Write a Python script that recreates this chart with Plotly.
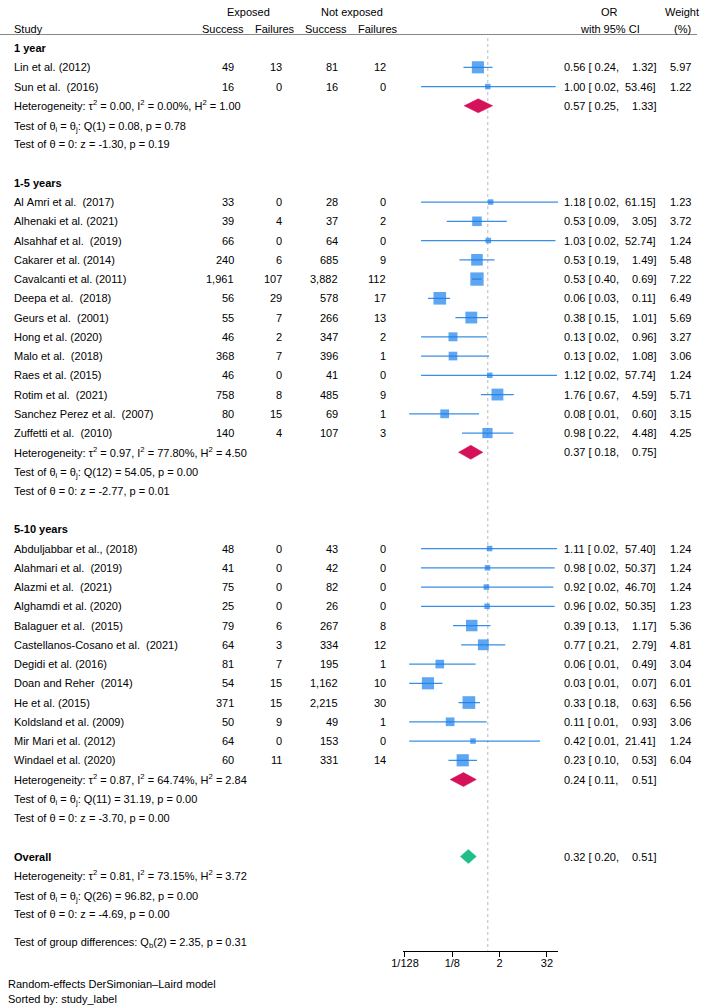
import math
import plotly.graph_objects as go

# ---------------- data ----------------
group_names = ["1 year", "1-5 years", "5-10 years"]

study_group = [0, 0] + [1] * 13 + [2] * 12
study_label = [
    "Lin et al. (2012)", "Sun et al.  (2016)",
    "Al Amri et al.  (2017)", "Alhenaki et al. (2021)", "Alsahhaf et al.  (2019)",
    "Cakarer et al. (2014)", "Cavalcanti et al. (2011)", "Deepa et al.  (2018)",
    "Geurs et al.  (2001)", "Hong et al. (2020)", "Malo et al.  (2018)",
    "Raes et al. (2015)", "Rotim et al.  (2021)", "Sanchez Perez et al.  (2007)",
    "Zuffetti et al.  (2010)",
    "Abduljabbar et al., (2018)", "Alahmari et al.  (2019)", "Alazmi et al.  (2021)",
    "Alghamdi et al. (2020)", "Balaguer et al.  (2015)",
    "Castellanos-Cosano et al.  (2021)", "Degidi et al. (2016)",
    "Doan and Reher  (2014)", "He et al. (2015)", "Koldsland et al. (2009)",
    "Mir Mari et al. (2012)", "Windael et al. (2020)",
]
exp_success = [49, 16, 33, 39, 66, 240, 1961, 56, 55, 46, 368, 46, 758, 80, 140,
               48, 41, 75, 25, 79, 64, 81, 54, 371, 50, 64, 60]
exp_failure = [13, 0, 0, 4, 0, 6, 107, 29, 7, 2, 7, 0, 8, 15, 4,
               0, 0, 0, 0, 6, 3, 7, 15, 15, 9, 0, 11]
nexp_success = [81, 16, 28, 37, 64, 685, 3882, 578, 266, 347, 396, 41, 485, 69, 107,
                43, 42, 82, 26, 267, 334, 195, 1162, 2215, 49, 153, 331]
nexp_failure = [12, 0, 0, 2, 0, 9, 112, 17, 13, 2, 1, 0, 9, 1, 3,
                0, 0, 0, 0, 8, 12, 1, 10, 30, 1, 0, 14]
odds_ratio = [0.56, 1.00, 1.18, 0.53, 1.03, 0.53, 0.53, 0.06, 0.38, 0.13, 0.13, 1.12, 1.76,
              0.08, 0.98, 1.11, 0.98, 0.92, 0.96, 0.39, 0.77, 0.06, 0.03, 0.33, 0.11, 0.42, 0.23]
ci_low = [0.24, 0.02, 0.02, 0.09, 0.02, 0.19, 0.40, 0.03, 0.15, 0.02, 0.02, 0.02, 0.67,
          0.01, 0.22, 0.02, 0.02, 0.02, 0.02, 0.13, 0.21, 0.01, 0.01, 0.18, 0.01, 0.01, 0.10]
ci_high = [1.32, 53.46, 61.15, 3.05, 52.74, 1.49, 0.69, 0.11, 1.01, 0.96, 1.08, 57.74, 4.59,
           0.60, 4.48, 57.40, 50.37, 46.70, 50.35, 1.17, 2.79, 0.49, 0.07, 0.63, 0.93, 21.41, 0.53]
weight = [5.97, 1.22, 1.23, 3.72, 1.24, 5.48, 7.22, 6.49, 5.69, 3.27, 3.06, 1.24, 5.71,
          3.15, 4.25, 1.24, 1.24, 1.24, 1.23, 5.36, 4.81, 3.04, 6.01, 6.56, 3.06, 1.24, 6.04]

sub_or = [0.57, 0.37, 0.24]
sub_low = [0.25, 0.18, 0.11]
sub_high = [1.33, 0.75, 0.51]
sub_tau2 = ["0.00", "0.97", "0.87"]
sub_i2 = ["0.00", "77.80", "64.74"]
sub_h2 = ["1.00", "4.50", "2.84"]
sub_q_df = [1, 12, 11]
sub_q = ["0.08", "54.05", "31.19"]
sub_q_p = ["0.78", "0.00", "0.00"]
sub_z = ["-1.30", "-2.77", "-3.70"]
sub_z_p = ["0.19", "0.01", "0.00"]

overall_or, overall_low, overall_high = 0.32, 0.20, 0.51
overall_tau2, overall_i2, overall_h2 = "0.81", "73.15", "3.72"
overall_q_df, overall_q, overall_q_p = 26, "96.82", "0.00"
overall_z, overall_z_p = "-4.69", "0.00"
groupdiff_df, groupdiff_q, groupdiff_p = 2, "2.35", "0.31"

tick_values = [1 / 128, 1 / 8, 2, 32]
tick_labels = ["1/128", "1/8", "2", "32"]

# ---------------- layout helpers ----------------
W, H = 709, 1008
ROW0, ROWH = 48.05, 19.25          # pixel y of row 0 and row height
FONT = "Liberation Sans, Arial, Helvetica, sans-serif"
FS = 11
BLUE = "#1a7fec"
CI_BLUE = "#3a8ee6"
CRIMSON = "#d41159"
GREEN = "#1fbf87"
NBSP = "\u00a0"
SUB_SHIFT = 1.5    # compensate the taller box of lines with subscripts
SUP_SHIFT = -0.5


def row_px(r):
    return ROW0 + ROWH * r


def row_of(ypx):
    return (ypx - ROW0) / ROWH


def nb(s):
    return s.replace(" ", NBSP)


# row assignment
rows_study = []
rows_group = []
rows_sum = []
r = 0
for g in range(3):
    rows_group.append(r)
    r += 1
    for i, sg in enumerate(study_group):
        if sg == g:
            rows_study.append(r)
            r += 1
    rows_sum.append(r)
    r += 4
row_overall = r

annotations = []


def txt(x, ypx, s, anchor="left", bold=False, size=FS):
    if bold:
        s = "<b>" + s + "</b>"
    annotations.append(dict(
        x=x / W, y=1 - ypx / H, xref="paper", yref="paper", text=s, showarrow=False,
        xanchor=anchor, yanchor="middle", borderpad=0,
        font=dict(family=FONT, size=size, color="black"),
    ))


# header
h1, h2 = 12.5, 28.5
txt(248, h1, "Exposed", "center")
txt(352, h1, nb("Not exposed"), "center")
txt(609, h1, "OR", "center")
txt(682, h1, "Weight", "center")
txt(13, h2, "Study")
txt(223, h2, "Success", "center")
txt(274.5, h2, "Failures", "center")
txt(326, h2, "Success", "center")
txt(378, h2, "Failures", "center")
txt(609.5, h2, nb("with 95% CI"), "center")
txt(682, h2, "(%)", "center")


def fmt_ci(ypx, es, lo, hi):
    txt(562.5, ypx, nb(f"{es:.2f} [ {lo:.2f},"), "left")
    txt(656.5, ypx, f"{hi:.2f}]", "right")


def het_lines(ypx, tau2, i2, h2v, qdf, q, qp, z, zp):
    txt(13, ypx + SUP_SHIFT, nb(f"Heterogeneity: τ<sup>2</sup> = {tau2}, I<sup>2</sup> = {i2}%, H<sup>2</sup> = {h2v}"))
    txt(13, ypx + ROWH + SUB_SHIFT, nb(f"Test of θ<sub>i</sub> = θ<sub>j</sub>: Q({qdf}) = {q}, p = {qp}"))
    txt(13, ypx + 2 * ROWH, nb(f"Test of θ = 0: z = {z}, p = {zp}"))


for g in range(3):
    txt(13, row_px(rows_group[g]), nb(group_names[g]), bold=True)
    ys = row_px(rows_sum[g])
    het_lines(ys, sub_tau2[g], sub_i2[g], sub_h2[g], sub_q_df[g], sub_q[g], sub_q_p[g],
              sub_z[g], sub_z_p[g])
    fmt_ci(ys, sub_or[g], sub_low[g], sub_high[g])

for i, rr in enumerate(rows_study):
    y = row_px(rr)
    txt(13, y, nb(study_label[i]))
    txt(235, y, f"{exp_success[i]:,}", "right")
    txt(283, y, f"{exp_failure[i]:,}", "right")
    txt(339, y, f"{nexp_success[i]:,}", "right")
    txt(387, y, f"{nexp_failure[i]:,}", "right")
    fmt_ci(y, odds_ratio[i], ci_low[i], ci_high[i])
    txt(692, y, f"{weight[i]:.2f}", "right")

yo = row_px(row_overall)
txt(13, yo, "Overall", bold=True)
het_lines(yo + ROWH, overall_tau2, overall_i2, overall_h2, overall_q_df, overall_q,
          overall_q_p, overall_z, overall_z_p)
fmt_ci(yo, overall_or, overall_low, overall_high)
txt(13, 941 + SUB_SHIFT, nb(f"Test of group differences: Q<sub>b</sub>({groupdiff_df}) = {groupdiff_q}, p = {groupdiff_p}"))

txt(7, 984, nb("Random-effects DerSimonian–Laird model"))
txt(7, 999, nb("Sorted by: study_label"))

# ---------------- traces ----------------
fig = go.Figure()

AX_Y_TOP, AX_Y_BOT = 36, 951
y_top_r, y_bot_r = row_of(AX_Y_TOP), row_of(AX_Y_BOT)

# no-effect dotted line
fig.add_trace(go.Scatter(
    x=[1, 1], y=[row_of(38), y_bot_r], mode="lines",
    line=dict(color="#b8b8b8", width=1, dash="dot"), hoverinfo="skip", showlegend=False,
))

# CI lines
cx, cy = [], []
for i, rr in enumerate(rows_study):
    cx += [ci_low[i], ci_high[i], None]
    cy += [rr, rr, None]
fig.add_trace(go.Scatter(
    x=cx, y=cy, mode="lines", line=dict(color=CI_BLUE, width=1.2),
    hoverinfo="skip", showlegend=False, cliponaxis=False,
))

# squares
fig.add_trace(go.Scatter(
    x=odds_ratio, y=rows_study, mode="markers",
    marker=dict(symbol="square", color=BLUE, size=[4.95 * math.sqrt(w) for w in weight],
                line=dict(width=0)),
    hoverinfo="skip", showlegend=False, cliponaxis=False,
))

DH = 7 / ROWH


def diamond(es, lo, hi, rr, color):
    fig.add_trace(go.Scatter(
        x=[lo, es, hi, es, lo], y=[rr, rr - DH, rr, rr + DH, rr],
        mode="lines", fill="toself", fillcolor=color, line=dict(color=color, width=0.5),
        hoverinfo="skip", showlegend=False, cliponaxis=False,
    ))


for g in range(3):
    diamond(sub_or[g], sub_low[g], sub_high[g], rows_sum[g], CRIMSON)
diamond(overall_or, overall_low, overall_high, row_overall, GREEN)

# ---------------- axes ----------------
X_ORIGIN, X_SCALE = 487.8, 11.83  # px of OR=1, px per doubling
lo_l2, hi_l2 = -7.17, 5.95
x_left = X_ORIGIN + lo_l2 * X_SCALE
x_right = X_ORIGIN + hi_l2 * X_SCALE

fig.update_layout(
    width=W, height=H, margin=dict(l=0, r=0, t=0, b=0, pad=0, autoexpand=False),
    paper_bgcolor="white", plot_bgcolor="white",
    font=dict(family=FONT, size=FS, color="black"),
    showlegend=False,
    annotations=annotations,
    xaxis=dict(
        type="log", domain=[x_left / W, x_right / W],
        range=[lo_l2 * math.log10(2), hi_l2 * math.log10(2)],
        tickvals=tick_values, ticktext=tick_labels,
        ticks="outside", ticklen=5, tickcolor="black", tickwidth=1,
        showline=True, linecolor="black", linewidth=1, automargin=False,
        showgrid=False, zeroline=False, tickfont=dict(family=FONT, size=FS, color="black"),
        anchor="y", fixedrange=True, ticklabelstandoff=-3,
    ),
    yaxis=dict(
        domain=[(H - AX_Y_BOT) / H, (H - AX_Y_TOP) / H],
        range=[y_bot_r, y_top_r], visible=False, showgrid=False, zeroline=False,
        fixedrange=True, automargin=False,
    ),
    shapes=[dict(type="line", xref="paper", yref="paper",
                 x0=0, x1=697 / W, y0=(H - 34.5) / H, y1=(H - 34.5) / H,
                 line=dict(color="#888888", width=1))],
)

fig.write_html("out.html")
